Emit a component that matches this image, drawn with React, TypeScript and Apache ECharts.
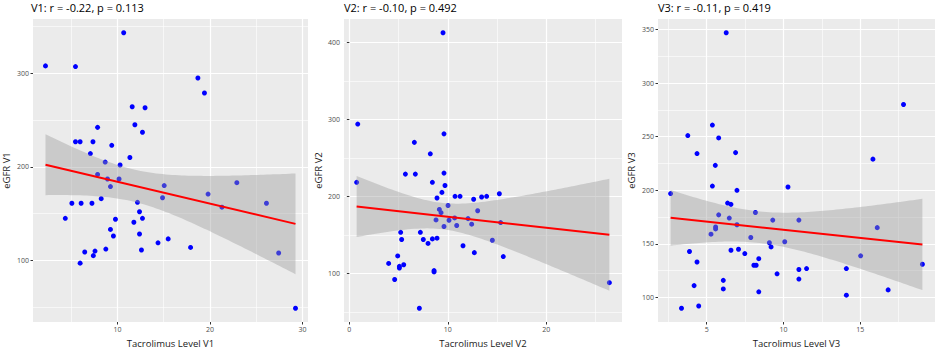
import React, { useEffect, useRef } from "react";
import * as echarts from "echarts";

// ---- Data ----
const v1Tacrolimus = [2.23, 5.47, 10.68, 18.7, 19.41, 11.6, 12.99, 11.89, 12.71, 7.86, 5.47, 5.97, 7.36, 9.39, 7.08, 11.35, 8.68, 10.29, 7.86, 8.93, 10.18, 9.25, 15.06, 14.88, 22.91, 19.8, 21.3, 26.11, 27.43, 29.25, 5.08, 6.08, 7.25, 8.25, 4.37, 12.17, 12.39, 12.71, 11.78, 9.79, 9.25, 9.57, 12.39, 14.39, 15.49, 17.91, 12.6, 8.75, 6.47, 7.58, 7.4, 5.97];
const v1Egfr = [308, 307.3, 343.4, 295.1, 279.0, 264.3, 263.3, 245.1, 237.1, 242.3, 226.9, 226.9, 226.9, 223.1, 214.3, 210.1, 205.2, 202.1, 192.0, 187.1, 187.1, 179.0, 180.1, 167.1, 183.2, 171.0, 157.0, 161.2, 108.0, 49.0, 161.2, 161.2, 161.2, 166.1, 145.1, 162.2, 152.1, 145.1, 140.9, 144.1, 133.2, 126.2, 128.3, 118.9, 123.1, 114.0, 111.2, 112.2, 109.1, 110.1, 105.2, 97.2];

const v2Tacrolimus = [9.51, 0.85, 9.61, 6.6, 8.22, 5.69, 6.7, 9.61, 0.74, 8.43, 9.71, 9.4, 8.9, 10.73, 11.24, 12.62, 13.43, 13.94, 15.23, 9.14, 9.31, 10.02, 13.03, 10.69, 8.8, 10.12, 12.05, 15.36, 9.61, 10.9, 12.42, 5.21, 7.21, 5.31, 7.51, 8.43, 8.9, 7.99, 11.54, 14.52, 12.69, 4.91, 15.63, 3.99, 5.52, 5.08, 5.08, 8.6, 8.6, 4.6, 26.4, 7.11];
const v2Egfr = [412.3, 293.9, 281.2, 270.2, 255.3, 229.0, 229.0, 230.3, 218.4, 218.4, 214.2, 205.3, 198.0, 200.2, 200.2, 196.4, 199.3, 200.2, 203.6, 183.2, 179.0, 188.3, 181.5, 172.2, 169.6, 169.2, 171.3, 166.2, 161.1, 162.4, 164.1, 153.5, 153.5, 144.2, 144.2, 145.0, 145.9, 139.1, 136.1, 143.3, 127.2, 122.9, 122.1, 113.2, 111.5, 109.4, 107.3, 103.9, 102.2, 92.4, 88.2, 55.1];

const v3Tacrolimus = [6.27, 17.81, 5.37, 3.77, 5.78, 4.37, 6.88, 5.56, 15.82, 5.37, 6.97, 10.29, 2.65, 6.36, 6.58, 8.17, 5.78, 6.47, 9.3, 11.0, 6.97, 5.58, 5.58, 16.1, 5.28, 7.87, 9.08, 10.08, 9.19, 7.07, 6.58, 3.88, 7.48, 15.02, 8.39, 4.37, 19.04, 8.07, 8.22, 11.5, 11.0, 14.09, 9.58, 11.0, 6.08, 4.18, 6.08, 16.81, 8.39, 14.09, 4.48, 3.36];
const v3Egfr = [346.9, 280.0, 260.8, 251.0, 248.8, 234.2, 235.1, 223.2, 229.0, 203.9, 199.9, 203.0, 196.9, 188.0, 186.8, 179.2, 177.0, 174.0, 172.1, 172.1, 167.8, 165.7, 163.9, 165.1, 159.0, 155.9, 151.0, 151.9, 147.1, 144.9, 144.0, 142.8, 140.9, 138.8, 136.1, 133.0, 130.9, 130.0, 130.0, 126.9, 126.0, 126.9, 122.0, 117.1, 115.9, 111.0, 107.9, 107.0, 105.2, 102.1, 92.0, 89.9];

const panelTitles = ["V1: r = -0.22, p = 0.113", "V2: r = -0.10, p = 0.492", "V3: r = -0.11, p = 0.419"];
const xTitles = ["Tacrolimus Level V1", "Tacrolimus Level V2", "Tacrolimus Level V3"];
const yTitles = ["eGFR V1", "eGFR V2", "eGFR V3"];

const xMajorTicks = [[10, 20, 30], [0, 10, 20], [5, 10, 15]];
const xMinorTicks = [[5, 15, 25], [5, 15, 25], [2.5, 7.5, 12.5, 17.5]];
const yMajorTicks = [[100, 200, 300], [100, 200, 300, 400], [100, 150, 200, 250, 300, 350]];
const yMinorTicks = [[50, 150, 250, 350], [50, 150, 250, 350], [125, 175, 225, 275, 325]];

// ---- Layout ----
const gridLefts = [31, 344, 658];
const gridWidths = [277, 278, 277];
const gridTop = 19;
const gridHeight = 308;
const yNameGaps = [22, 21, 22];

const FONT = "'Open Sans', 'Noto Sans', sans-serif";

function extent(v: number[]) {
  const lo = Math.min(...v);
  const hi = Math.max(...v);
  const pad = (hi - lo) * 0.05;
  return { lo, hi, min: lo - pad, max: hi + pad };
}

function tQuantile975(df: number) {
  const z = 1.959964;
  return (
    z +
    (z ** 3 + z) / (4 * df) +
    (5 * z ** 5 + 16 * z ** 3 + 3 * z) / (96 * df ** 2) +
    (3 * z ** 7 + 19 * z ** 5 + 17 * z ** 3 - 15 * z) / (384 * df ** 3)
  );
}

function linearFit(xs: number[], ys: number[]) {
  const n = xs.length;
  const mx = xs.reduce((a, b) => a + b, 0) / n;
  const my = ys.reduce((a, b) => a + b, 0) / n;
  let sxx = 0;
  let sxy = 0;
  for (let i = 0; i < n; i++) {
    sxx += (xs[i] - mx) ** 2;
    sxy += (xs[i] - mx) * (ys[i] - my);
  }
  const b = sxy / sxx;
  const a = my - b * mx;
  let sse = 0;
  for (let i = 0; i < n; i++) sse += (ys[i] - a - b * xs[i]) ** 2;
  const s = Math.sqrt(sse / (n - 2));
  const t = tQuantile975(n - 2);
  const lo = Math.min(...xs);
  const hi = Math.max(...xs);
  const gx: number[] = [];
  const upper: number[] = [];
  const lower: number[] = [];
  const N = 80;
  for (let k = 0; k < N; k++) {
    const x = lo + ((hi - lo) * k) / (N - 1);
    const yhat = a + b * x;
    const se = s * Math.sqrt(1 / n + (x - mx) ** 2 / sxx);
    gx.push(x);
    upper.push(yhat + t * se);
    lower.push(yhat - t * se);
  }
  return { a, b, lo, hi, gx, upper, lower };
}

const panels = [
  { xs: v1Tacrolimus, ys: v1Egfr },
  { xs: v2Tacrolimus, ys: v2Egfr },
  { xs: v3Tacrolimus, ys: v3Egfr },
];

function buildOption() {
  const grid: any[] = [];
  const xAxis: any[] = [];
  const yAxis: any[] = [];
  const series: any[] = [];
  const title: any[] = [];

  panels.forEach((p, i) => {
    const ex = extent(p.xs);
    const ey = extent(p.ys);
    const fit = linearFit(p.xs, p.ys);

    grid.push({
      left: gridLefts[i],
      top: gridTop,
      width: gridWidths[i],
      height: gridHeight,
      show: true,
      backgroundColor: "#EBEBEB",
      borderWidth: 0,
    });

    title.push({
      text: panelTitles[i],
      left: gridLefts[i],
      top: 2,
      padding: 0,
      textStyle: { fontSize: 11, fontWeight: "normal", color: "#000", fontFamily: FONT },
    });

    xAxis.push({
      type: "value",
      gridIndex: i,
      min: ex.min,
      max: ex.max,
      position: "bottom",
      axisLine: { show: false },
      axisTick: { show: true, length: 2.5, lineStyle: { color: "#333", width: 1 }, customValues: xMajorTicks[i] },
      axisLabel: { customValues: xMajorTicks[i], color: "#4D4D4D", fontSize: 7, margin: 4, fontFamily: FONT },
      splitLine: { show: true, lineStyle: { color: "#FFFFFF", width: 1.2 } },
      name: xTitles[i],
      nameLocation: "middle",
      nameGap: 16,
      nameTextStyle: { fontSize: 9.5, color: "#1A1A1A", fontFamily: FONT },
      z: 1,
    });
    xAxis.push({
      type: "value",
      gridIndex: i,
      min: ex.min,
      max: ex.max,
      position: "bottom",
      axisLine: { show: false },
      axisTick: { show: false, customValues: xMinorTicks[i] },
      axisLabel: { show: false },
      splitLine: { show: true, lineStyle: { color: "#FFFFFF", width: 0.6 } },
      z: 0,
    });

    yAxis.push({
      type: "value",
      gridIndex: i,
      min: ey.min,
      max: ey.max,
      position: "left",
      axisLine: { show: false },
      axisTick: { show: true, length: 2.5, lineStyle: { color: "#333", width: 1 }, customValues: yMajorTicks[i] },
      axisLabel: { customValues: yMajorTicks[i], color: "#4D4D4D", fontSize: 7, margin: 4, fontFamily: FONT },
      splitLine: { show: true, lineStyle: { color: "#FFFFFF", width: 1.2 } },
      name: yTitles[i],
      nameLocation: "middle",
      nameGap: yNameGaps[i],
      nameRotate: 90,
      nameTextStyle: { fontSize: 9.5, color: "#1A1A1A", fontFamily: FONT },
      z: 1,
    });
    yAxis.push({
      type: "value",
      gridIndex: i,
      min: ey.min,
      max: ey.max,
      position: "left",
      axisLine: { show: false },
      axisTick: { show: false, customValues: yMinorTicks[i] },
      axisLabel: { show: false },
      splitLine: { show: true, lineStyle: { color: "#FFFFFF", width: 0.6 } },
      z: 0,
    });

    series.push({
      type: "scatter",
      xAxisIndex: 2 * i,
      yAxisIndex: 2 * i,
      data: p.xs.map((x, k) => [x, p.ys[k]]),
      symbolSize: 5,
      itemStyle: { color: "#0000FF", opacity: 1 },
      z: 2,
      silent: true,
    });

    series.push({
      type: "custom",
      xAxisIndex: 2 * i,
      yAxisIndex: 2 * i,
      data: [[fit.gx[0], fit.upper[0]]],
      z: 3,
      silent: true,
      renderItem: (_params: any, api: any) => {
        const top = fit.gx.map((x, k) => api.coord([x, fit.upper[k]]));
        const bottom = fit.gx.map((x, k) => api.coord([x, fit.lower[k]])).reverse();
        return {
          type: "polygon",
          shape: { points: top.concat(bottom) },
          style: { fill: "rgba(153,153,153,0.4)" },
        };
      },
    });

    series.push({
      type: "line",
      xAxisIndex: 2 * i,
      yAxisIndex: 2 * i,
      data: [
        [fit.lo, fit.a + fit.b * fit.lo],
        [fit.hi, fit.a + fit.b * fit.hi],
      ],
      symbol: "none",
      lineStyle: { color: "#FF0000", width: 2 },
      z: 4,
      silent: true,
    });
  });

  return { animation: false, backgroundColor: "#FFFFFF", title, grid, xAxis, yAxis, series };
}

export default function App() {
  const ref = useRef<HTMLDivElement | null>(null);
  useEffect(() => {
    if (!ref.current) return;
    const chart = echarts.init(ref.current, undefined, { renderer: "svg" });
    chart.setOption(buildOption() as any);
    return () => chart.dispose();
  }, []);
  return (
    <div
      ref={ref}
      style={{ position: "absolute", left: 0, top: 0, width: 940, height: 353 }}
    />
  );
}
